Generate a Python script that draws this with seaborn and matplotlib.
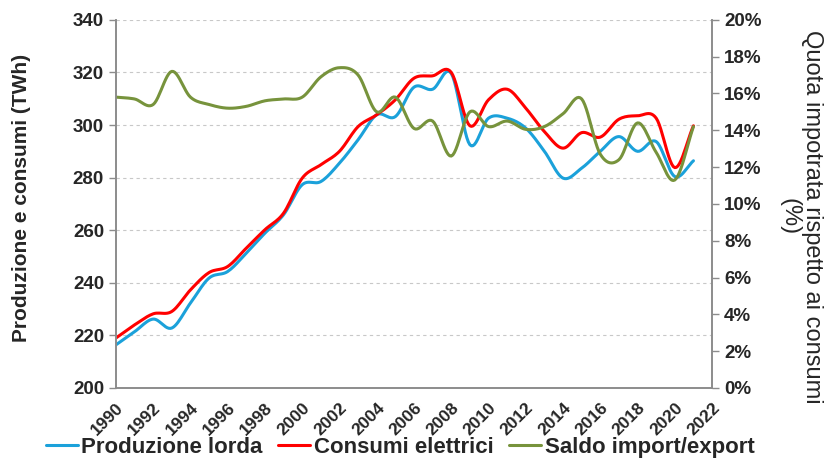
import numpy as np
import pandas as pd
import matplotlib.pyplot as plt
import seaborn as sns
from matplotlib.lines import Line2D

# --- DATA ---
anni = list(range(1990, 2022))
produzione = [216.4, 221.4, 226.2, 222.8, 232.3, 241.8, 244.3, 251.3, 258.9, 265.9,
              277.3, 278.5, 285.5, 294.4, 303.9, 303.2, 314.4, 313.6, 319.6, 292.5,
              302.6, 302.6, 298.8, 290.0, 279.8, 283.6, 290.0, 295.6, 290.0, 293.7,
              280.4, 286.4]
consumi = [219.0, 224.0, 228.2, 229.1, 237.3, 243.9, 246.2, 253.2, 260.2, 266.5,
           279.8, 284.9, 290.0, 299.4, 303.9, 309.6, 317.8, 318.7, 320.0, 299.7,
           309.6, 313.6, 306.4, 297.5, 291.2, 297.1, 295.4, 302.2, 303.5, 302.6,
           283.8, 299.7]
saldo_pct = [15.8, 15.7, 15.4, 17.2, 15.8, 15.4, 15.2, 15.3, 15.6, 15.7,
             15.8, 16.9, 17.4, 17.0, 15.0, 15.8, 14.1, 14.5, 12.6, 15.0,
             14.2, 14.5, 14.05, 14.2, 14.9, 15.7, 12.7, 12.4, 14.4, 12.8,
             11.3, 14.2]

serie = ['Produzione lorda', 'Consumi elettrici', 'Saldo import/export']
colori = ['#1BA1DA', '#FF0000', '#77933C']


def smooth(x, y, n=12):
    # Catmull-Rom, like Excel "smoothed line"
    x = np.asarray(x, float)
    y = np.asarray(y, float)
    px = np.concatenate([[2 * x[0] - x[1]], x, [2 * x[-1] - x[-2]]])
    py = np.concatenate([[2 * y[0] - y[1]], y, [2 * y[-1] - y[-2]]])
    xs, ys = [], []
    t = np.linspace(0, 1, n, endpoint=False)
    for i in range(1, len(px) - 2):
        for arr, out in ((px, xs), (py, ys)):
            p0, p1, p2, p3 = arr[i - 1], arr[i], arr[i + 1], arr[i + 2]
            out.extend(0.5 * (2 * p1 + (-p0 + p2) * t
                              + (2 * p0 - 5 * p1 + 4 * p2 - p3) * t ** 2
                              + (-p0 + 3 * p1 - 3 * p2 + p3) * t ** 3))
    xs.append(x[-1])
    ys.append(y[-1])
    return pd.DataFrame({'anno': xs, 'val': ys})


sns.set_style('white')
plt.rcParams['font.family'] = ['Liberation Sans', 'DejaVu Sans']

fig = plt.figure(figsize=(8.28, 4.72), dpi=100)
ax = fig.add_axes([0.140, 0.178, 0.720, 0.780])
ax2 = ax.twinx()

sns.lineplot(data=smooth(anni, produzione), x='anno', y='val', ax=ax,
             color=colori[0], lw=2.2, sort=False)
sns.lineplot(data=smooth(anni, consumi), x='anno', y='val', ax=ax,
             color=colori[1], lw=2.2, sort=False)
sns.lineplot(data=smooth(anni, saldo_pct), x='anno', y='val', ax=ax2,
             color=colori[2], lw=2.2, sort=False)

grigio = '#8C8C8C'
ax.set_xlim(1990, 2022)
ax.set_ylim(200, 340)
ax2.set_ylim(0, 20)
ax.set_xticks(range(1990, 2023, 2))
ax.set_xticklabels([str(v) for v in range(1990, 2023, 2)], rotation=45,
                   ha='right', rotation_mode='anchor', fontweight='bold',
                   fontsize=12.5)
ax.set_yticks(range(200, 341, 20))
ax.set_yticklabels([str(v) for v in range(200, 341, 20)], fontweight='bold',
                   fontsize=13.5)
ax2.set_yticks(range(0, 21, 2))
ax2.set_yticklabels([f'{v}%' for v in range(0, 21, 2)], fontweight='bold',
                    fontsize=13.5)

ax.yaxis.grid(True, ls=(0, (3, 3)), color='#C8C8C8', lw=0.8)
ax.set_axisbelow(True)

for a in (ax, ax2):
    a.spines['top'].set_visible(False)
    for s in ('left', 'right', 'bottom'):
        a.spines[s].set_color(grigio)
        a.spines[s].set_linewidth(1.2)
    a.tick_params(axis='both', which='both', color=grigio, length=5, width=1,
                  direction='out')

ax.set_xlabel('')
ax.set_ylabel('')
ax2.set_ylabel('')
fig.text(22 / 828, 1 - 198 / 472, 'Produzione e consumi (TWh)', rotation=90,
         ha='center', va='center', fontsize=15, fontweight='bold')
fig.text(801 / 828, 1 - 217 / 472, 'Quota impotrata rispetto ai consumi\n(%)',
         rotation=270, ha='center', va='center', multialignment='center',
         fontsize=17, linespacing=1.0)

handles = [Line2D([], [], color=c, lw=2.2) for c in colori]
fig.legend(handles, serie, loc='lower center', bbox_to_anchor=(0.483, -0.012),
           ncol=3, frameon=False,
           prop={'weight': 'bold', 'size': 16}, handlelength=1.45,
           handletextpad=0.15, columnspacing=0.7)

fig.savefig('out.png', dpi=100)
